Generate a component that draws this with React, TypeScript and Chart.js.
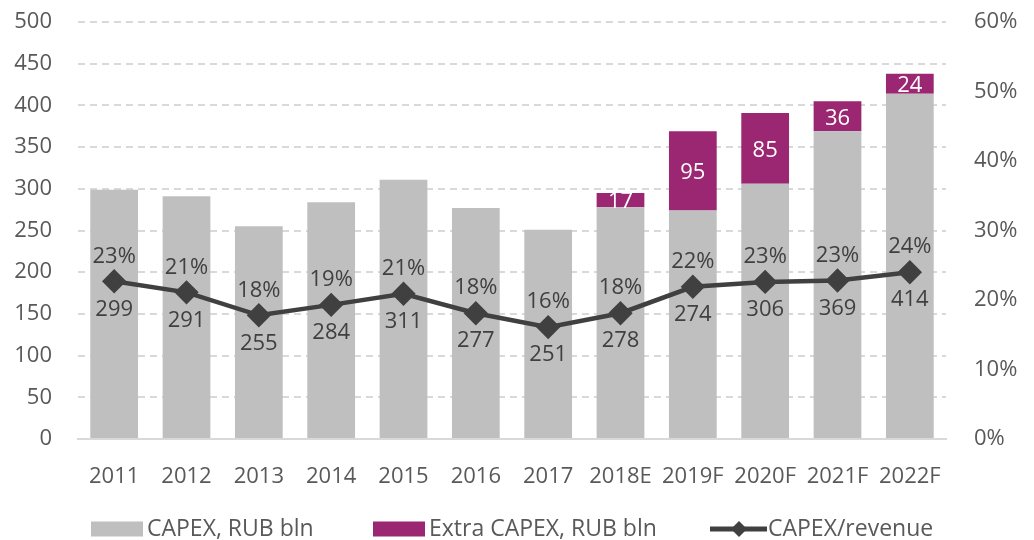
import React, { useEffect, useRef } from "react";
import { Chart, registerables } from "chart.js";

Chart.register(...registerables);

const categories = ["2011", "2012", "2013", "2014", "2015", "2016", "2017", "2018E", "2019F", "2020F", "2021F", "2022F"];
const capex = [299, 291, 255, 284, 311, 277, 251, 278, 274, 306, 369, 414];
const extraCapex = [null, null, null, null, null, null, null, 17, 95, 85, 36, 24];
const capexRevenue = [22.7, 21.1, 17.8, 19.3, 20.9, 18.1, 16.1, 18.1, 21.9, 22.6, 22.8, 24.0];
const capexRevenueLabels = ["23%", "21%", "18%", "19%", "21%", "18%", "16%", "18%", "22%", "23%", "23%", "24%"];
const legendLabels = ["CAPEX, RUB bln", "Extra CAPEX, RUB bln", "CAPEX/revenue"];

const FONT = "'Open Sans', 'Noto Sans', sans-serif";
const GRAY = "#BFBFBF";
const MAGENTA = "#9B2671";
const DARK = "#404040";
const TICK = "#595959";

const labelPlugin = {
  id: "labels",
  afterDatasetsDraw(chart: any) {
    const ctx = chart.ctx;
    ctx.save();
    ctx.font = `22px ${FONT}`;
    ctx.textAlign = "center";
    ctx.textBaseline = "middle";
    const lineMeta = chart.getDatasetMeta(2);
    const extraMeta = chart.getDatasetMeta(1);
    lineMeta.data.forEach((pt: any, i: number) => {
      ctx.fillStyle = DARK;
      ctx.fillText(capexRevenueLabels[i], pt.x, pt.y - 25);
      ctx.fillText(String(capex[i]), pt.x, pt.y + 28);
    });
    extraMeta.data.forEach((bar: any, i: number) => {
      if (extraCapex[i] == null) return;
      ctx.fillStyle = "#FFFFFF";
      ctx.fillText(String(extraCapex[i]), bar.x, (bar.y + bar.base) / 2 + 2);
    });
    ctx.restore();
  },
  afterDraw(chart: any) {
    const ctx = chart.ctx;
    ctx.save();
    const y = 529;
    ctx.font = `23px ${FONT}`;
    ctx.textBaseline = "middle";
    ctx.textAlign = "left";
    ctx.fillStyle = GRAY;
    ctx.fillRect(91, y - 7.5, 52, 15);
    ctx.fillStyle = TICK;
    ctx.fillText(legendLabels[0], 147, y);
    ctx.fillStyle = MAGENTA;
    ctx.fillRect(373, y - 7.5, 52, 15);
    ctx.fillStyle = TICK;
    ctx.fillText(legendLabels[1], 429, y);
    ctx.strokeStyle = DARK;
    ctx.lineWidth = 5;
    ctx.beginPath();
    ctx.moveTo(710, y);
    ctx.lineTo(767, y);
    ctx.stroke();
    ctx.fillStyle = DARK;
    ctx.beginPath();
    ctx.moveTo(739, y - 8);
    ctx.lineTo(747, y);
    ctx.lineTo(739, y + 8);
    ctx.lineTo(731, y);
    ctx.closePath();
    ctx.fill();
    ctx.fillStyle = TICK;
    ctx.fillText(legendLabels[2], 768, y);
    ctx.restore();
  },
};

export default function App() {
  const ref = useRef<HTMLCanvasElement>(null);
  useEffect(() => {
    document.body.style.margin = "0";
    const chart = new Chart(ref.current!, {
      type: "bar",
      data: {
        labels: categories,
        datasets: [
          {
            type: "bar",
            label: legendLabels[0],
            data: capex,
            backgroundColor: GRAY,
            stack: "s",
            yAxisID: "y",
            barPercentage: 0.66,
            categoryPercentage: 1,
            order: 2,
          },
          {
            type: "bar",
            label: legendLabels[1],
            data: extraCapex as any,
            backgroundColor: MAGENTA,
            stack: "s",
            yAxisID: "y",
            barPercentage: 0.66,
            categoryPercentage: 1,
            order: 2,
          },
          {
            type: "line",
            label: legendLabels[2],
            data: capexRevenue,
            borderColor: DARK,
            backgroundColor: DARK,
            borderWidth: 4.5,
            pointStyle: "rectRot",
            pointRadius: 9,
            pointHoverRadius: 9,
            yAxisID: "y2",
            order: 1,
          } as any,
        ],
      },
      options: {
        responsive: false,
        animation: false,
        layout: { padding: { top: 22, bottom: 30, left: 0, right: 0 } },
        plugins: { legend: { display: false }, tooltip: { enabled: false } },
        scales: {
          x: {
            stacked: true,
            grid: { display: false },
            border: { display: true, color: "#D9D9D9", width: 2 },
            ticks: { color: TICK, font: { family: FONT, size: 22 }, padding: 17, maxRotation: 0, autoSkip: false },
            afterFit(scale: any) {
              scale.height = 71;
            },
          },
          y: {
            stacked: true,
            min: 0,
            max: 500,
            ticks: { stepSize: 50, color: TICK, font: { family: FONT, size: 22 }, padding: 26 },
            grid: {
              color: (c: any) => (c.tick && c.tick.value === 0 ? "rgba(0,0,0,0)" : "#D9D9D9"),
              lineWidth: 2,
              drawTicks: false,
            },
            border: { display: false, dash: [7, 5] },
            afterFit(scale: any) {
              scale.width = 78;
              scale.paddingTop = 5;
              scale.paddingBottom = 0;
            },
          },
          y2: {
            position: "right",
            min: 0,
            max: 60,
            ticks: {
              stepSize: 10,
              color: TICK,
              font: { family: FONT, size: 22 },
              padding: 20,
              callback: (v: any) => v + "%",
            },
            grid: { display: false, drawOnChartArea: false },
            border: { display: false },
            afterFit(scale: any) {
              scale.width = 88;
              scale.paddingTop = 5;
              scale.paddingBottom = 0;
            },
          },
        },
      },
      plugins: [labelPlugin],
    });
    return () => chart.destroy();
  }, []);
  return (
    <div style={{ width: 1034, height: 540 }}>
      <canvas ref={ref} width={1034} height={540} style={{ display: "block" }} />
    </div>
  );
}
